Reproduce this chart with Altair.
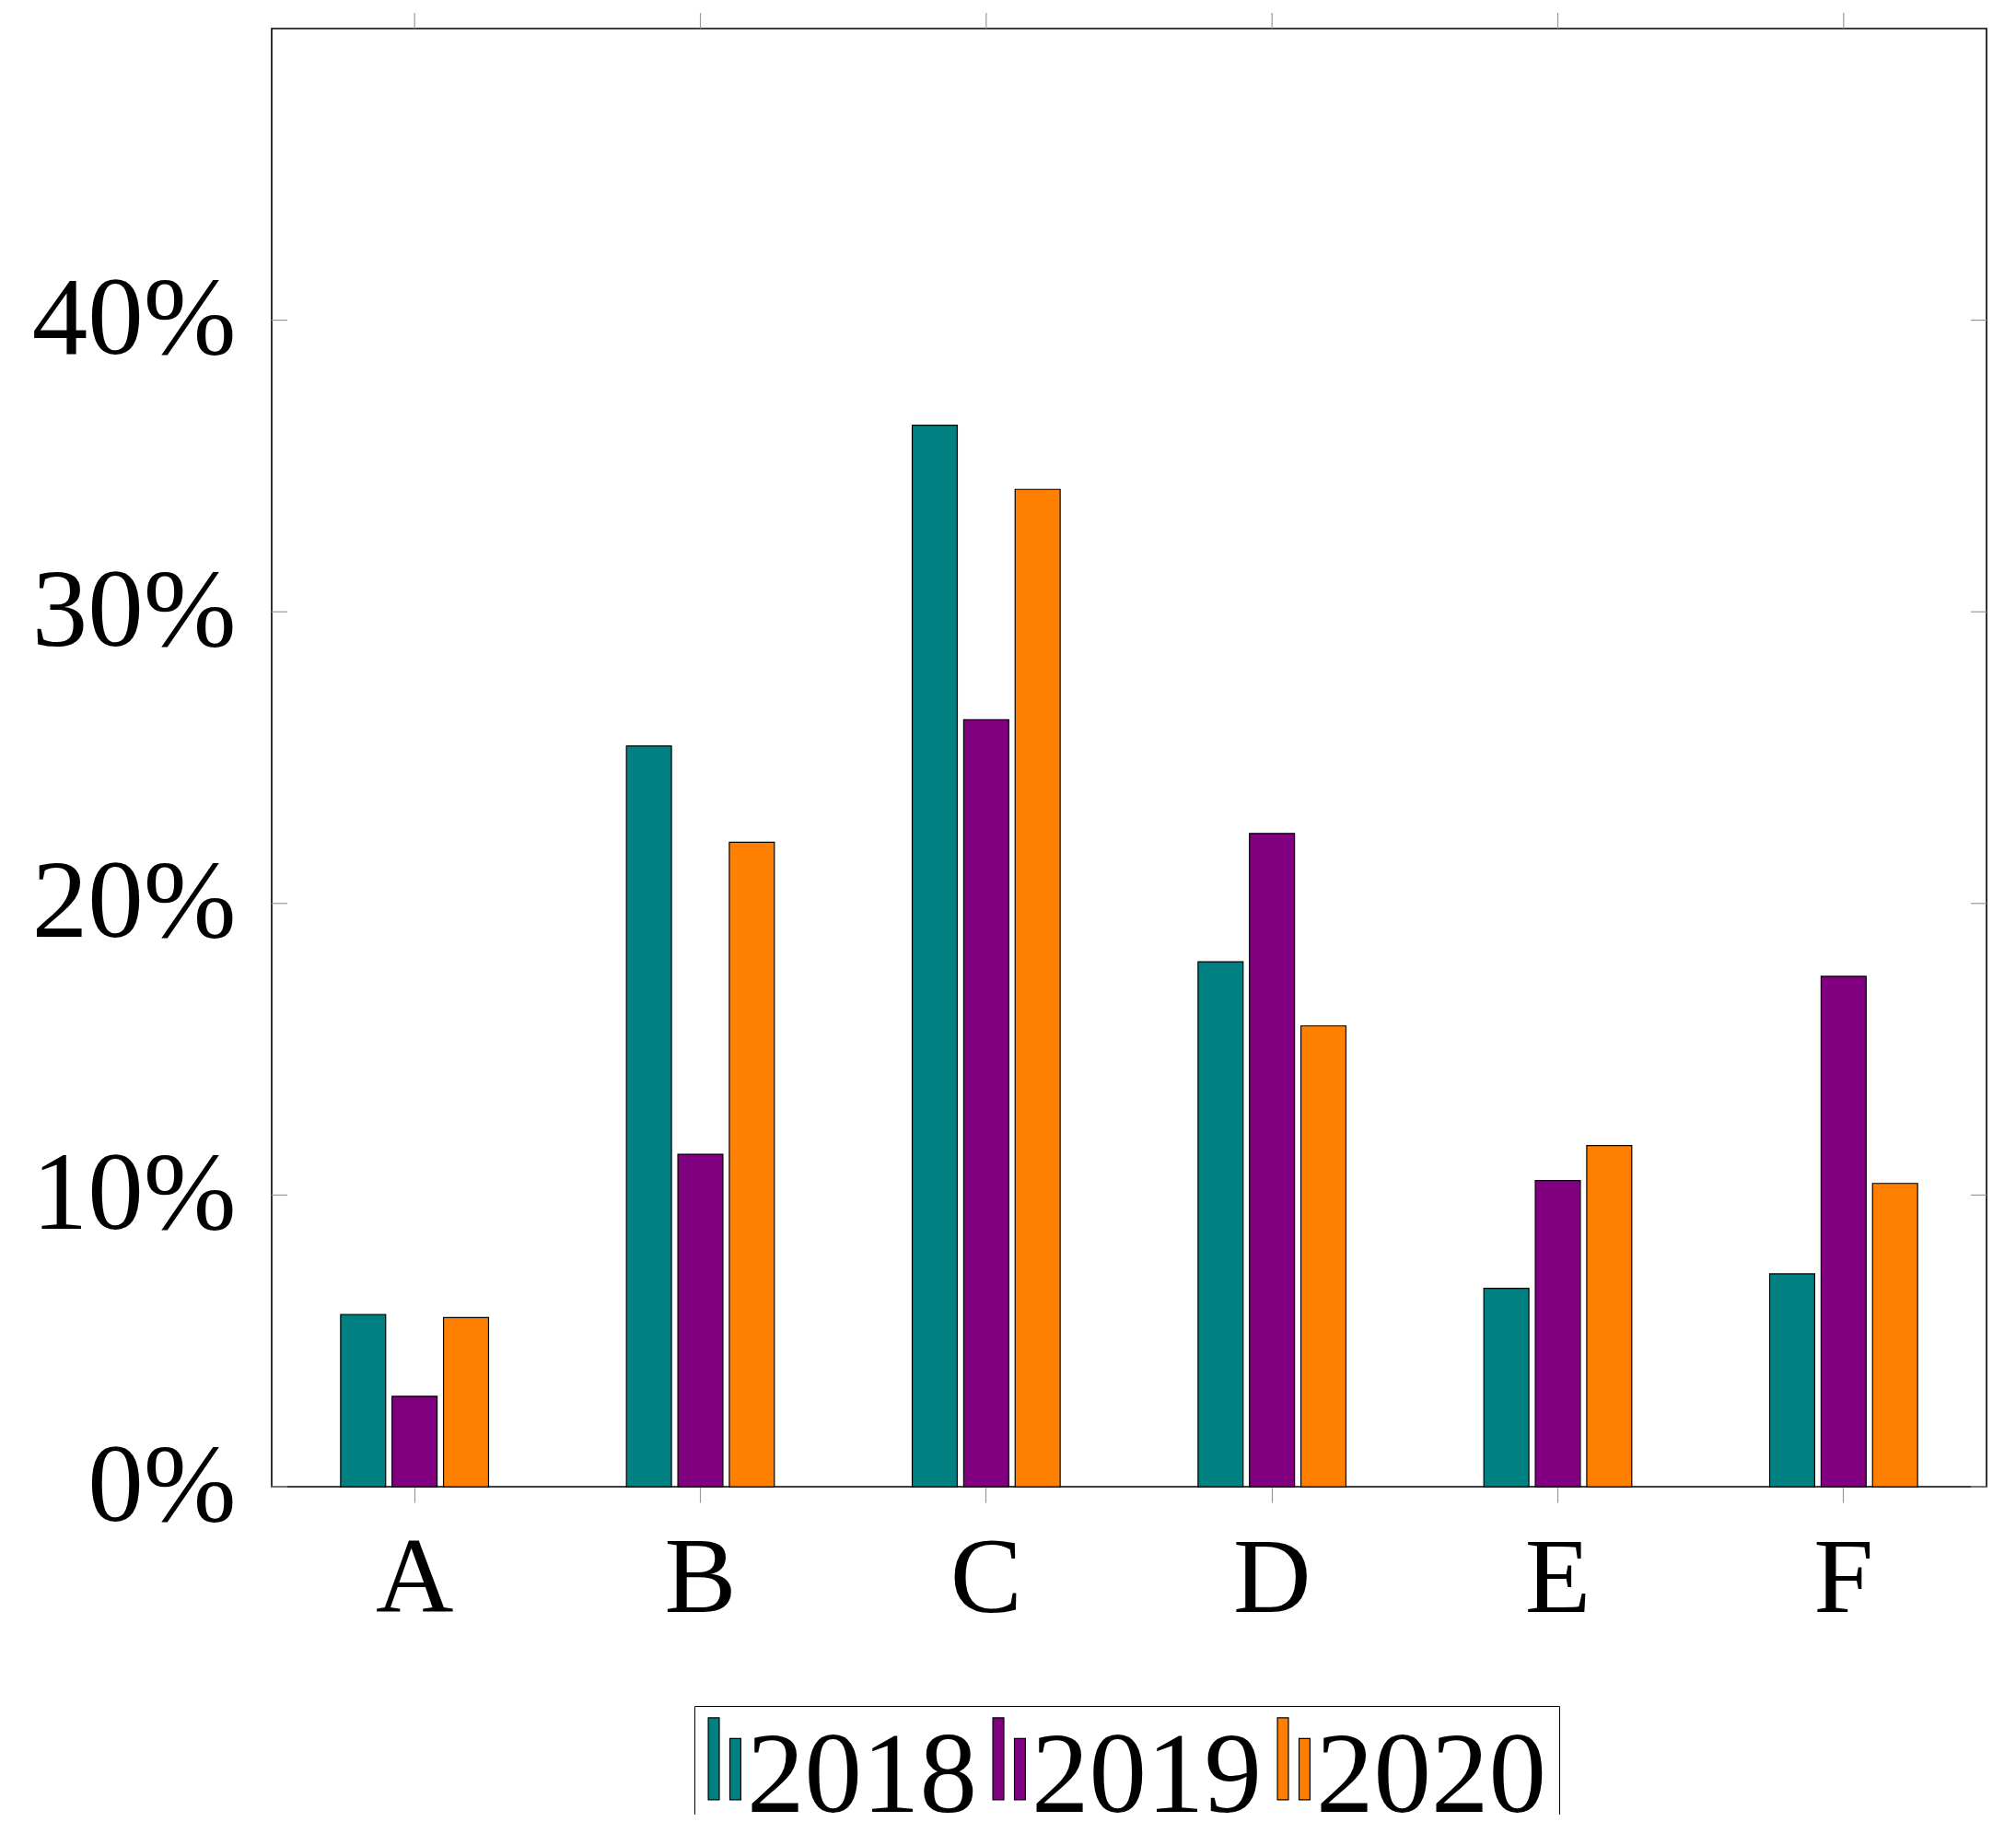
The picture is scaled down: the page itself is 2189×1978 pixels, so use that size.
import altair as alt
import pandas as pd

categories = ["A", "B", "C", "D", "E", "F"]
years = ["2018", "2019", "2020"]
v2018 = [5.9, 25.4, 36.4, 18.0, 6.8, 7.3]
v2019 = [3.1, 11.4, 26.3, 22.4, 10.5, 17.5]
v2020 = [5.8, 22.1, 34.2, 15.8, 11.7, 10.4]
colors = ["#008080", "#800080", "#ff8000"]
ytick_values = [0, 10, 20, 30, 40]

rows = []
for yr, vals in zip(years, [v2018, v2019, v2020]):
    for c, v in zip(categories, vals):
        rows.append({"cat": c, "year": yr, "value": v / 100})
df = pd.DataFrame(rows)
df_ticks = pd.DataFrame({"v": [t / 100 for t in ytick_values]})
df_cats = pd.DataFrame({"cat": categories})

W, H = 1862, 1583
FONT = "Liberation Serif"

xscale = alt.Scale(domain=categories, paddingInner=0.46, paddingOuter=0.23)
yscale = alt.Scale(domain=[0, 0.5])

xaxis = alt.Axis(title=None, labelAngle=0, tickSize=17, tickColor="#999999",
                 tickWidth=1.2, domain=False, labelPadding=26, labelFontSize=117,
                 labelFont=FONT, labelColor="black", labelLimit=0, labelOverlap=False)
yaxis = alt.Axis(title=None, values=[t / 100 for t in ytick_values], format=".0%",
                 ticks=False, domain=False, grid=False, labelPadding=39,
                 labelFontSize=121, labelFont=FONT, labelColor="black", labelLimit=0,
                 labelOverlap=False)

sym_path = ("M-3.51,-3.65 L-2.83,-3.65 L-2.83,1.43 L-3.51,1.43 Z "
            "M-2.17,-2.36 L-1.49,-2.36 L-1.49,1.43 L-2.17,1.43 Z")

bars = alt.Chart(df).mark_bar(stroke="black", strokeWidth=1.2).encode(
    x=alt.X("cat:N", scale=xscale, sort=categories, axis=xaxis),
    xOffset=alt.XOffset("year:N", sort=years,
                        scale=alt.Scale(paddingInner=0.125, paddingOuter=0.0625)),
    y=alt.Y("value:Q", scale=yscale, axis=yaxis),
    color=alt.Color("year:N", sort=years,
                    scale=alt.Scale(domain=years, range=colors),
                    legend=alt.Legend(title=None, orient="none", legendX=459, legendY=1821,
                                      direction="horizontal", symbolType=sym_path,
                                      symbolSize=1225, symbolStrokeColor="black",
                                      symbolStrokeWidth=1.2, symbolOpacity=1,
                                      labelFontSize=125, labelFont=FONT,
                                      labelOffset={"expr": "-82"},
                                      labelLimit=0,
                                      columnPadding=14, padding=14, strokeColor="black",
                                      labelColor="black")),
)

left_ticks = alt.Chart(df_ticks).mark_rule(color="#999999", strokeWidth=1.2).encode(
    y=alt.Y("v:Q", scale=yscale, axis=yaxis),
    x=alt.value(0), x2=alt.value(17),
)
right_ticks = alt.Chart(df_ticks).mark_rule(color="#999999", strokeWidth=1.2).encode(
    y=alt.Y("v:Q", scale=yscale, axis=yaxis),
    x=alt.value(W - 17), x2=alt.value(W),
)
top_ticks = alt.Chart(df_cats).mark_rule(color="#999999", strokeWidth=1.2).encode(
    x=alt.X("cat:N", scale=xscale, sort=categories, bandPosition=0.5, axis=xaxis),
    y=alt.value(-17), y2=alt.value(0),
)

chart = alt.layer(bars, left_ticks, right_ticks, top_ticks).properties(
    width=W, height=H,
    background="white",
    autosize=alt.AutoSizeParams(type="none"),
    padding={"left": 287, "top": 23, "right": 24, "bottom": 356},
).configure_view(
    stroke="black", strokeWidth=1.6
)

chart.save("out.html", embed_options={"renderer": "svg", "actions": False})
